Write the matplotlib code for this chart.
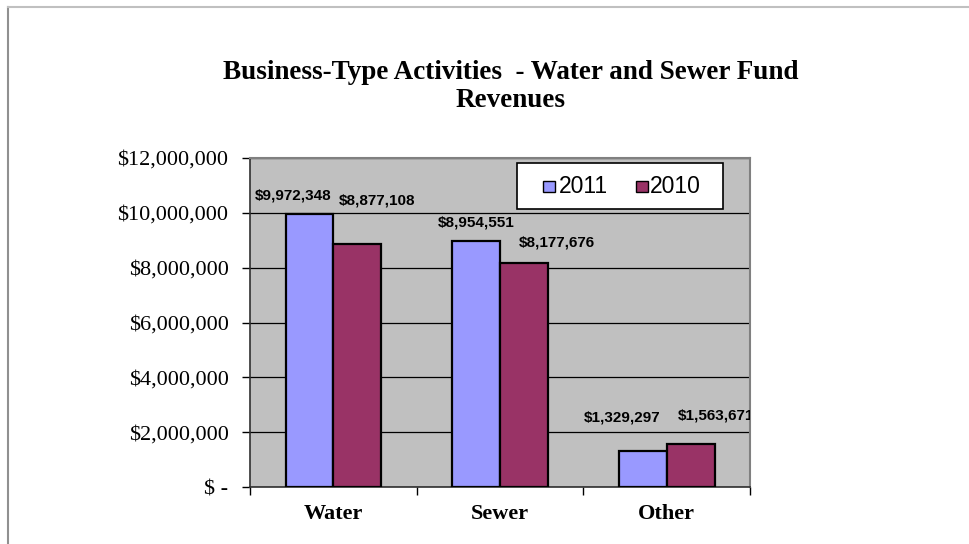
import matplotlib
matplotlib.use("Agg")
import matplotlib.pyplot as plt
from matplotlib.lines import Line2D
from matplotlib.patches import Rectangle
from matplotlib.ticker import FuncFormatter, FixedLocator
import numpy as np

categories = ["Water", "Sewer", "Other"]
series_names = ["2011", "2010"]
values_2011 = [9972348, 8954551, 1329297]
values_2010 = [8877108, 8177676, 1563671]
y_ticks = [0, 2000000, 4000000, 6000000, 8000000, 10000000, 12000000]
title_text = "Business-Type Activities  - Water and Sewer Fund\nRevenues"

colors = ["#9999FF", "#993366"]
# manual label offsets in pixels (dx, dy) relative to top-center of each bar
label_offsets_2011 = [(-16, 18), (0, 19), (-21, 33)]
label_offsets_2010 = [(20, 43), (33, 20), (25, 29)]

W, H = 969, 544
fig = plt.figure(figsize=(W / 100, H / 100), dpi=100)
fig.patch.set_facecolor("white")


def fx(px):
    return px / W


def fy(py):
    return 1 - py / H


# outer page border lines
fig.add_artist(Line2D([fx(8), fx(8)], [0, fy(7)], transform=fig.transFigure,
                      color="#909090", lw=1.5))
fig.add_artist(Line2D([fx(8), fx(968)], [fy(7), fy(7)], transform=fig.transFigure,
                      color="#C0C0C0", lw=1.5))

ax = fig.add_axes([fx(250), fy(487), 500 / W, 329 / H])
ax.set_facecolor("#C0C0C0")

x = np.arange(len(categories))
bw = 0.287
bars1 = ax.bar(x - bw / 2, values_2011, bw, color=colors[0], edgecolor="black",
               linewidth=1.6, label=series_names[0], zorder=3)
bars2 = ax.bar(x + bw / 2, values_2010, bw, color=colors[1], edgecolor="black",
               linewidth=1.6, label=series_names[1], zorder=3)

ax.set_xlim(-0.5, 2.5)
ax.set_ylim(0, 12000000)
ax.set_yticks(y_ticks)


def fmt(v, pos):
    if v == 0:
        return "$ -"
    return "${:,.0f}".format(v)


ax.yaxis.set_major_formatter(FuncFormatter(fmt))
ax.grid(axis="y", color="black", linewidth=0.9, zorder=1)
ax.set_axisbelow(True)

ax.set_xticks(x)
ax.set_xticklabels(categories)
ax.xaxis.set_minor_locator(FixedLocator([-0.5, 0.5, 1.5, 2.5]))
ax.tick_params(axis="x", which="major", length=0, pad=12)
ax.tick_params(axis="x", which="minor", length=6, width=1, color="black")
ax.tick_params(axis="y", which="major", length=6, width=1, color="black", pad=9.5)

for lab in ax.get_xticklabels():
    lab.set_fontfamily("Liberation Serif")
    lab.set_fontweight("bold")
    lab.set_fontsize(16)
for lab in ax.get_yticklabels():
    lab.set_fontfamily("Liberation Serif")
    lab.set_fontsize(16)

for side in ["top", "right"]:
    ax.spines[side].set_color("#808080")
    ax.spines[side].set_linewidth(1.5)
for side in ["left", "bottom"]:
    ax.spines[side].set_color("#303030")
    ax.spines[side].set_linewidth(1.2)

for bars, vals, offs in [(bars1, values_2011, label_offsets_2011),
                         (bars2, values_2010, label_offsets_2010)]:
    for b, v, (dx, dy) in zip(bars, vals, offs):
        ax.annotate("${:,.0f}".format(v), xy=(b.get_x() + b.get_width() / 2, v),
                    xytext=(dx, dy), textcoords="offset pixels",
                    ha="center", va="center", fontsize=11, fontweight="bold",
                    fontfamily="Liberation Sans", color="black",
                    annotation_clip=False, clip_on=True, zorder=5)

# legend box (drawn to match the original's wide padding)
fig.add_artist(Rectangle((fx(517), fy(209)), 206 / W, 46 / H, transform=fig.transFigure,
                         facecolor="white", edgecolor="black", lw=1.2, zorder=10))
legend_square_x = [543, 636]
legend_text_x = [559, 650]
for name, col, sx, tx in zip(series_names, colors, legend_square_x, legend_text_x):
    fig.add_artist(Rectangle((fx(sx), fy(192)), 12 / W, 11 / H, transform=fig.transFigure,
                             facecolor=col, edgecolor="black", lw=1.0, zorder=11))
    fig.text(fx(tx), fy(193), name, ha="left", va="baseline",
             fontfamily="Liberation Sans", fontsize=16.5, zorder=12)

fig.text(fx(511), fy(60), title_text, ha="center", va="top",
         fontfamily="Liberation Serif", fontweight="bold", fontsize=19.5,
         linespacing=1.15)

fig.savefig("out.png", dpi=100)
